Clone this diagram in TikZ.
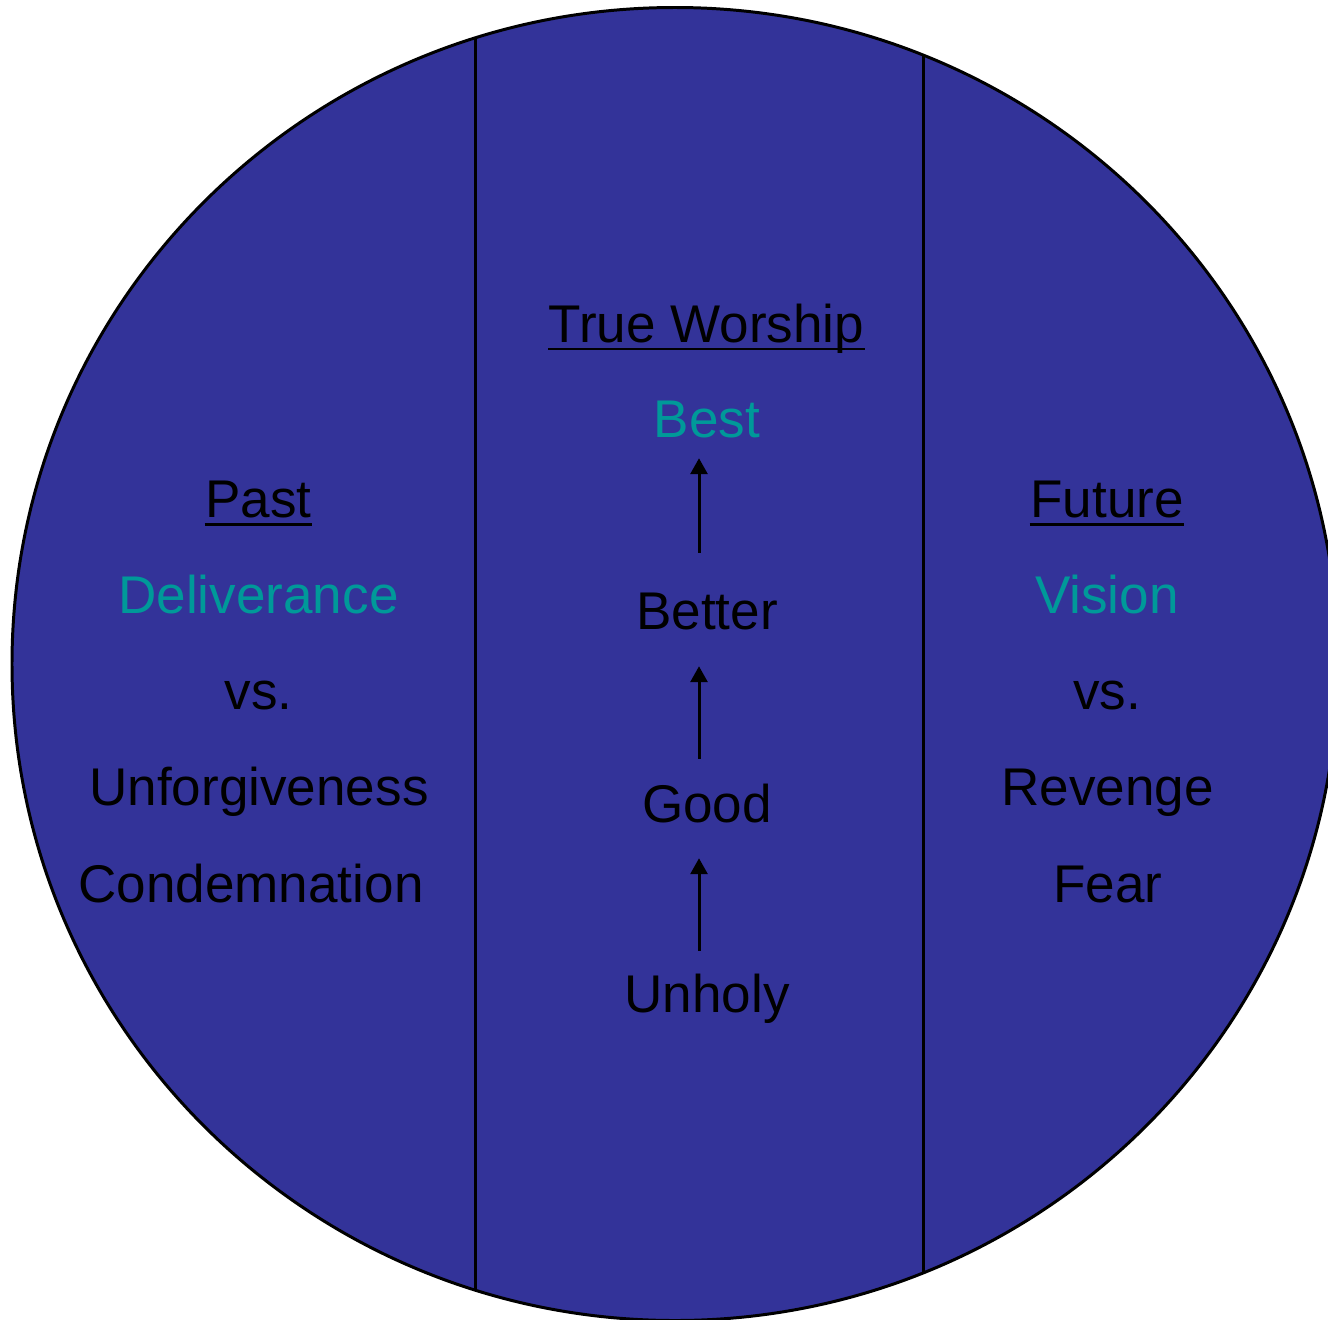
\documentclass[tikz,border=0pt]{standalone}
\usepackage{fontspec}
\setmainfont{Liberation Sans}
\usetikzlibrary{arrows.meta,calc}
\definecolor{navy}{HTML}{333399}
\definecolor{teal}{HTML}{009999}
\definecolor{ink}{HTML}{000000}
\tikzset{lbl/.style={font=\fontsize{15.1}{18}\selectfont,inner sep=0pt,anchor=base,text=black},
  hi/.style={lbl,text=teal},
  rim/.style={ink,line width=0.85pt},
  up/.style={ink,line width=0.85pt,-{Triangle[width=0.17cm,length=0.16cm]}}}
\newcommand{\uline}[1]{\draw[rim] ($(#1.base west)+(0,-0.07)$)--($(#1.base east)+(0,-0.07)$);}

\begin{document}
\begin{tikzpicture}
\useasboundingbox (0,0) rectangle (13.28,-13.19);
\fill[navy] (6.75,-6.64) ellipse [x radius=6.63,y radius=6.565];
\begin{scope}\clip (6.75,-6.64) ellipse [x radius=6.63,y radius=6.565];
\draw[rim] (4.75,0)--(4.75,-13.3);\draw[rim] (9.23,0)--(9.23,-13.3);
\end{scope}
\draw[rim] (6.75,-6.64) ellipse [x radius=6.63,y radius=6.565];
% past
\node[lbl] (past) at (2.585,-5.17){Past};\uline{past}
\node[hi] (deliv) at (2.585,-6.13){Deliverance};
\node[lbl] (vsl) at (2.585,-7.09){vs.};
\node[lbl] (unforg) at (2.59,-8.05){Unforgiveness};
\node[lbl] (condem) at (2.51,-9.02){Condemnation};
% middle
\node[lbl] (worship) at (7.065,-3.42){True Worship};\uline{worship}
\node[hi] (best) at (7.07,-4.37){Best};
\node[lbl] (better) at (7.07,-6.29){Better};
\node[lbl] (good) at (7.07,-8.22){Good};
\node[lbl] (unholy) at (7.07,-10.12){Unholy};
\draw[up,shorten <=0.39cm,shorten >=0.20cm] ([xshift=-0.08cm]better.north)--([xshift=-0.08cm]best.south);
\draw[up,shorten <=0.24cm,shorten >=0.36cm] ([xshift=-0.08cm]good.north)--([xshift=-0.08cm]better.south);
\draw[up,shorten <=0.22cm,shorten >=0.35cm] ([xshift=-0.08cm]unholy.north)--([xshift=-0.08cm]good.south);
% future
\node[lbl] (future) at (11.07,-5.17){Future};\uline{future}
\node[hi] (vision) at (11.07,-6.13){Vision};
\node[lbl] (vsr) at (11.07,-7.09){vs.};
\node[lbl] (revenge) at (11.075,-8.05){Revenge};
\node[lbl] (fear) at (11.08,-9.02){Fear};
\end{tikzpicture}
\end{document}
